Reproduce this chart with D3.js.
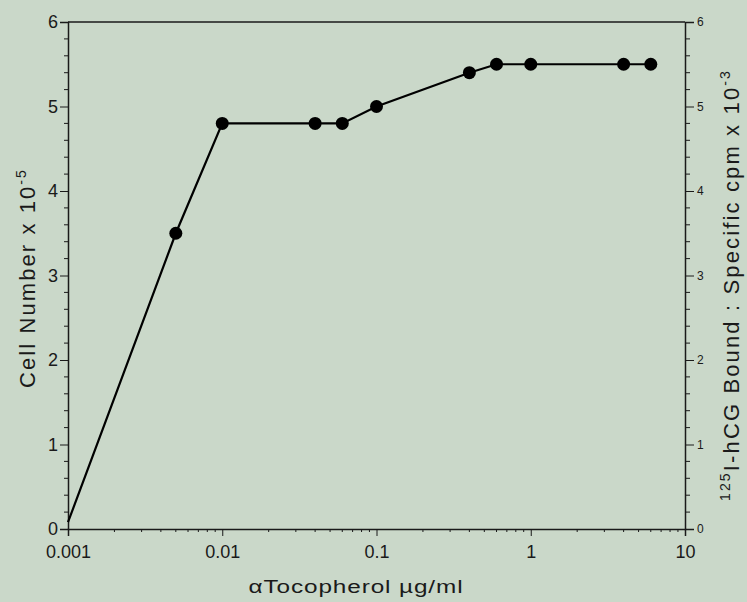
<!DOCTYPE html>
<html>
<head>
<meta charset="utf-8">
<script src="https://cdn.jsdelivr.net/npm/d3@7"></script>
<style>
  html, body { margin: 0; padding: 0; background: #cad8c9; }
  svg { display: block; }
  text { font-family: "Liberation Sans", Arial, Helvetica, sans-serif; fill: #1a1a1a; }
</style>
</head>
<body>
<svg id="chart" width="747" height="602"></svg>
<script>
// Data
const concentrations = [0.001, 0.005, 0.01, 0.04, 0.06, 0.1, 0.4, 0.6, 1, 4, 6];
const cellNumber     = [0.08,  3.5,   4.8,  4.8,  4.8,  5.0, 5.4, 5.5, 5.5, 5.5, 5.5];
const hasMarker      = [false, true,  true, true, true, true, true, true, true, true, true];
const xTickValues = [0.001, 0.01, 0.1, 1, 10];
const xTickLabels = ["0.001", "0.01", "0.1", "1", "10"];
const yTickValues = [0, 1, 2, 3, 4, 5, 6];

const svg = d3.select("#chart");
const m = { left: 68, right: 685, top: 22, bottom: 529 };

const x = d3.scaleLog().domain([0.001, 10]).range([m.left, m.right]);
const y = d3.scaleLinear().domain([0, 6]).range([m.bottom, m.top]);
const y2 = d3.scaleLinear().domain([0, 6]).range([m.bottom, m.top]);

const ink = "#1a1a1a";
const FONT = "Liberation Sans, Arial, sans-serif";

// minor tick values
const yMinor = d3.range(0, 6.001, 0.2).filter(v => Math.abs(v - Math.round(v)) > 1e-6);
const xMinor = [];
[0.001, 0.01, 0.1, 1].forEach(d => { for (let k = 2; k <= 9; k++) xMinor.push(d * k); });

// top frame line
svg.append("line").attr("x1", m.left).attr("x2", m.right).attr("y1", m.top).attr("y2", m.top)
  .attr("stroke", ink).attr("stroke-width", 1.5);

// Left axis
const gL = svg.append("g").attr("transform", `translate(${m.left},0)`)
  .call(d3.axisLeft(y).tickValues(yTickValues).tickFormat(d3.format("d")).tickSize(8).tickPadding(2));
gL.selectAll("text").attr("font-size", 18);
gL.append("g").selectAll("line").data(yMinor).join("line")
  .attr("x1", 0).attr("x2", -4).attr("y1", d => y(d)).attr("y2", d => y(d)).attr("stroke", ink);

// Right axis
const gR = svg.append("g").attr("transform", `translate(${m.right},0)`)
  .call(d3.axisRight(y2).tickValues(yTickValues).tickFormat(d3.format("d")).tickSize(9).tickPadding(3));
gR.selectAll("text").attr("font-size", 12);
gR.append("g").selectAll("line").data(yMinor).join("line")
  .attr("x1", 0).attr("x2", 5).attr("y1", d => y2(d)).attr("y2", d => y2(d)).attr("stroke", ink);

// Bottom axis
const gB = svg.append("g").attr("transform", `translate(0,${m.bottom})`)
  .call(d3.axisBottom(x).tickValues(xTickValues).tickFormat((d, i) => xTickLabels[i]).tickSize(7).tickPadding(9));
gB.selectAll("text").attr("font-size", 18);
gB.append("g").selectAll("line").data(xMinor).join("line")
  .attr("x1", d => x(d)).attr("x2", d => x(d)).attr("y1", 0).attr("y2", 3).attr("stroke", ink);

[gL, gR, gB].forEach(g => {
  g.select(".domain").attr("stroke", ink).attr("stroke-width", 1.5);
  g.selectAll(".tick line").attr("stroke", ink);
  g.selectAll("text").style("fill", ink).style("font-family", FONT);
});

// Data line
const pts = concentrations.map((c, i) => ({ c, v: cellNumber[i], mk: hasMarker[i] }));
svg.append("path").datum(pts)
  .attr("d", d3.line().x(d => x(d.c)).y(d => y(d.v)))
  .attr("fill", "none").attr("stroke", "#000").attr("stroke-width", 2.2);
svg.append("g").selectAll("circle").data(pts.filter(d => d.mk)).join("circle")
  .attr("cx", d => x(d.c)).attr("cy", d => y(d.v)).attr("r", 6.5).attr("fill", "#000");

// stretch a title's letter-spacing to a target length
function fit(t, target) {
  const node = t.node();
  const w = node.getComputedTextLength();
  const n = node.textContent.length;
  if (n > 1) t.style("letter-spacing", ((target - w) / n) + "px");
}

// Axis titles
// x title: wide glyphs — stretch horizontally to the reference width
const xtG = svg.append("g");
const xt = xtG.append("text").attr("x", 0).attr("y", 0).attr("text-anchor", "middle")
  .attr("font-size", 19).text("αTocopherol µg/ml");
{
  const w = xt.node().getComputedTextLength();
  const sx = 200 / w;
  xt.style("letter-spacing", ((215 - 200) / 17 / sx) + "px");
  xtG.attr("transform", `translate(356,593) scale(${sx},1)`);
}

const lt = svg.append("text").attr("transform", "translate(35,278) rotate(-90)")
  .attr("text-anchor", "middle").attr("font-size", 22);
lt.append("tspan").text("Cell Number x 10");
lt.append("tspan").attr("dy", -9).attr("font-size", 14).text("-5");
fit(lt, 220);

const rt = svg.append("text").attr("transform", "translate(739,285) rotate(-90)")
  .attr("text-anchor", "middle").attr("font-size", 22);
rt.append("tspan").attr("dy", -9).attr("font-size", 14).text("125");
rt.append("tspan").attr("dy", 9).text("I-hCG Bound : Specific cpm x 10");
rt.append("tspan").attr("dy", -9).attr("font-size", 14).text("-3");
fit(rt, 432);
</script>
</body>
</html>
